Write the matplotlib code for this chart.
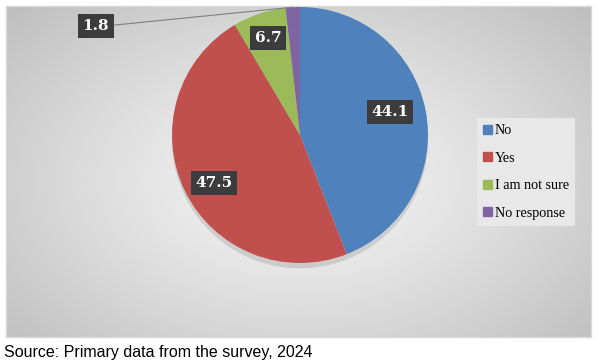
import numpy as np
from matplotlib import pyplot as plt
from matplotlib.patches import Rectangle

categories = ["No", "Yes", "I am not sure", "No response"]
values = [44.1, 47.5, 6.7, 1.8]
colors = ["#4f81bd", "#c0504d", "#9bbb59", "#8064a2"]
source_text = "Source: Primary data from the survey, 2024"

W, H = 601, 364
fig = plt.figure(figsize=(W / 100, H / 100), dpi=100)

# chart area background with radial gradient
x0, y0, x1, y1 = 6, 6, 591, 337
bg = fig.add_axes([x0 / W, 1 - y1 / H, (x1 - x0) / W, (y1 - y0) / H])
gx, gy = np.meshgrid(np.linspace(-1, 1, 400), np.linspace(1, -1, 240))
r = np.sqrt(gx ** 2 + ((gy + 0.05) * 0.9) ** 2)
r = np.clip(r / 1.35, 0, 1)
shade = 0.965 - 0.215 * r ** 1.2
img = np.dstack([shade, shade, shade])
bg.imshow(img, aspect="auto", extent=[0, 1, 0, 1], interpolation="bilinear")
bg.set_xlim(0, 1)
bg.set_ylim(0, 1)
bg.set_xticks([])
bg.set_yticks([])
for s in bg.spines.values():
    s.set_color("#d8d8d8")
    s.set_linewidth(1)

# pie axes, center (300,135) radius 128 px
cx, cy, rad = 300, 135, 128
ax = fig.add_axes([(cx - rad) / W, 1 - (cy + rad) / H, 2 * rad / W, 2 * rad / H])
ax.set_facecolor("none")
wedges, _ = ax.pie(values, colors=colors, startangle=90, counterclock=False,
                   radius=1, shadow={"ox": 0.0, "oy": -0.03, "shade": 0.9, "alpha": 0.12},
                   wedgeprops={"linewidth": 0})
ax.set_xlim(-1, 1)
ax.set_ylim(-1, 1)
ax.set_aspect("auto")
ax.axis("off")

def to_data(px, py):
    return (px - cx) / rad, (cy - py) / rad

label_pix = [(390, 112), (214, 183), (268, 38), (96, 26)]
box = dict(boxstyle="square,pad=0.3", facecolor="#3c3c3c", edgecolor="none")
for v, (px, py) in zip(values, label_pix):
    lx, ly = to_data(px, py)
    ax.text(lx, ly, f"{v:.1f}", color="white", fontsize=11, fontweight="bold",
            family="DejaVu Serif", ha="center", va="center", bbox=box,
            clip_on=False, zorder=5)

# leader line for the small slice
ang = np.deg2rad(90 + values[3] / 100 * 360 / 2)
ex, ey = np.cos(ang), np.sin(ang)
sx, sy = to_data(115, 25)
ax.plot([sx, ex], [sy, ey], color="#7f7f7f", lw=0.8, clip_on=False, zorder=4)

# legend
leg = fig.legend(handles=[Rectangle((0, 0), 1, 1, color=c) for c in colors],
                 labels=categories, loc="upper left",
                 bbox_to_anchor=(477 / W, 1 - 118 / H), frameon=True,
                 prop={"family": "Liberation Serif", "size": 10.2},
                 handlelength=0.6, handleheight=0.6, handletextpad=0.2,
                 labelspacing=1.02, borderpad=0.45, borderaxespad=0,
                 fancybox=False)
leg.get_frame().set_facecolor("#e8e8e8")
leg.get_frame().set_edgecolor("none")
leg.get_frame().set_alpha(1)

fig.text(4 / W, 1 - 352 / H, source_text, fontsize=11.5, family="Liberation Sans",
         ha="left", va="center", color="black")

fig.savefig("out.png", dpi=100)
